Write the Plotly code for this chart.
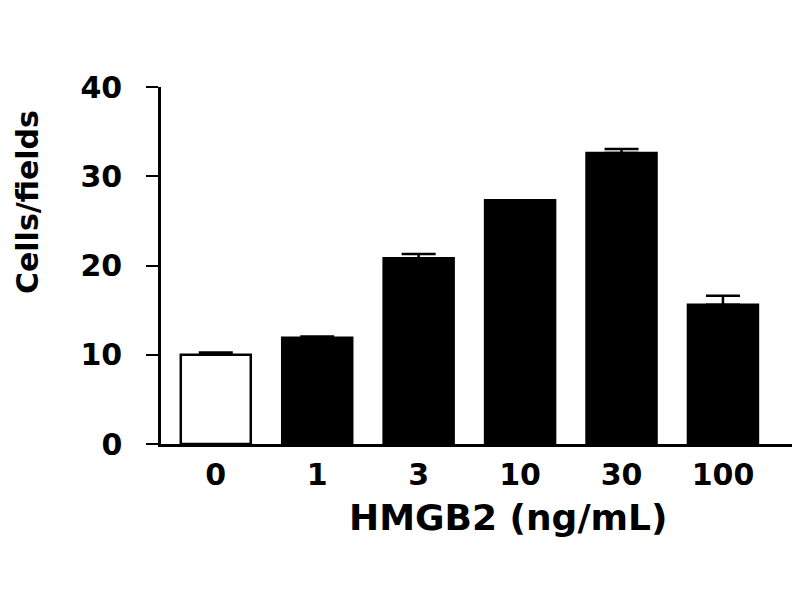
import plotly.graph_objects as go

categories = ["0", "1", "3", "10", "30", "100"]
values = [10.0, 11.9, 20.8, 27.3, 32.6, 15.6]
errors = [0.25, 0.15, 0.5, 0.0, 0.45, 1.0]
colors = ["white", "black", "black", "black", "black", "black"]
y_ticks = [0, 10, 20, 30, 40]

FONT = "DejaVu Sans"
positions = list(range(len(categories)))

fig = go.Figure()
fig.add_trace(go.Bar(
    x=positions, y=values, width=0.69,
    marker=dict(color=colors, line=dict(color="black", width=2.5)),
    error_y=dict(type="data", array=errors, arrayminus=[0] * len(errors),
                 symmetric=False, color="black", thickness=2.5, width=17),
    showlegend=False,
))

fig.update_layout(
    width=800, height=600,
    paper_bgcolor="white", plot_bgcolor="white",
    margin=dict(l=153, r=11, t=79, b=164),
    font=dict(family=FONT, color="black"),
    xaxis=dict(
        range=[-0.54, 5.73], tickmode="array", tickvals=positions, ticktext=categories,
        showline=True, linecolor="black", linewidth=2.5, ticks="", showgrid=False,
        zeroline=False, tickfont=dict(size=30, family=FONT, weight="bold"),
        ticklabelstandoff=2,
    ),
    yaxis=dict(
        range=[0, 40], tickmode="array", tickvals=y_ticks,
        showline=True, linecolor="black", linewidth=2.5, ticks="outside",
        ticklen=12, tickwidth=2, tickcolor="black", showgrid=False, zeroline=False,
        tickfont=dict(size=30, family=FONT, weight="bold"), ticklabelstandoff=18,
    ),
    annotations=[
        dict(text="Cells/fields", xref="paper", yref="paper", x=-0.209, y=0.678,
             xanchor="center", yanchor="middle", textangle=-90, showarrow=False,
             font=dict(size=30, family=FONT, weight="bold")),
        dict(text="HMGB2 (ng/mL)", xref="paper", yref="paper", x=0.545, y=-0.205,
             xanchor="center", yanchor="middle", showarrow=False,
             font=dict(size=36, family=FONT, weight="bold")),
    ],
)

fig.write_html("out.html")
